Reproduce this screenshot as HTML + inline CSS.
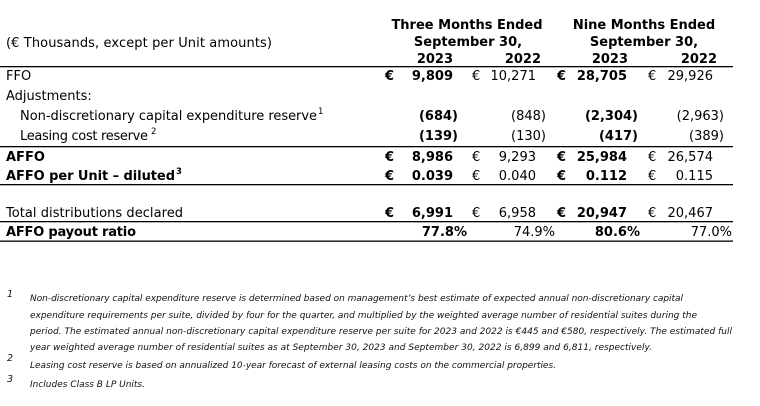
<!DOCTYPE html>
<html>
<head>
<meta charset="utf-8">
<style>
  html,body{margin:0;padding:0;background:#fff;}
  svg{display:block;}
  text{font-family:"DejaVu Sans","Liberation Sans",sans-serif;fill:#000;}
  .r{font-size:13px;}
  .b{font-size:13px;font-weight:bold;}
  .sup{font-size:8.5px;}
  .fn{font-size:9px;font-style:italic;fill:#111;}
  .fnn{font-size:9.5px;font-style:italic;fill:#111;}
</style>
</head>
<body>
<svg width="760" height="406" viewBox="0 0 760 406" xmlns="http://www.w3.org/2000/svg">
  <!-- Header -->
  <text class="b" x="467" y="29" text-anchor="middle">Three Months Ended</text>
  <text class="b" x="644" y="29" text-anchor="middle">Nine Months Ended</text>
  <text class="r" x="6" y="47" textLength="266" lengthAdjust="spacing">(€ Thousands, except per Unit amounts)</text>
  <text class="b" x="468" y="46" text-anchor="middle">September 30,</text>
  <text class="b" x="644" y="46" text-anchor="middle">September 30,</text>
  <text class="b" x="453" y="63" text-anchor="end">2023</text>
  <text class="b" x="541" y="63" text-anchor="end">2022</text>
  <text class="b" x="628" y="63" text-anchor="end">2023</text>
  <text class="b" x="717" y="63" text-anchor="end">2022</text>

  <!-- Lines -->
  <rect x="0" y="66" width="733" height="1.3" fill="#000"/>
  <rect x="0" y="146" width="733" height="1.3" fill="#000"/>
  <rect x="0" y="184" width="733" height="1.3" fill="#000"/>
  <rect x="0" y="221" width="733" height="1.3" fill="#000"/>
  <rect x="0" y="240.5" width="733" height="1.3" fill="#000"/>

  <!-- FFO -->
  <text class="r" x="6" y="80">FFO</text>
  <text class="b" x="385" y="80">€</text>
  <text class="b" x="453" y="80" text-anchor="end">9,809</text>
  <text class="r" x="472" y="80">€</text>
  <text class="r" x="536" y="80" text-anchor="end">10,271</text>
  <text class="b" x="557" y="80">€</text>
  <text class="b" x="627" y="80" text-anchor="end">28,705</text>
  <text class="r" x="648" y="80">€</text>
  <text class="r" x="713" y="80" text-anchor="end">29,926</text>

  <!-- Adjustments -->
  <text class="r" x="6" y="100">Adjustments:</text>

  <!-- Non-discretionary -->
  <text class="r" x="20" y="120" textLength="297" lengthAdjust="spacing">Non-discretionary capital expenditure reserve</text>
  <text class="sup" x="318" y="114">1</text>
  <text class="b" x="458" y="120" text-anchor="end">(684)</text>
  <text class="r" x="546" y="120" text-anchor="end">(848)</text>
  <text class="b" x="638" y="120" text-anchor="end">(2,304)</text>
  <text class="r" x="724" y="120" text-anchor="end">(2,963)</text>

  <!-- Leasing -->
  <text class="r" x="20" y="140" textLength="128" lengthAdjust="spacing">Leasing cost reserve</text>
  <text class="sup" x="151" y="134">2</text>
  <text class="b" x="458" y="140" text-anchor="end">(139)</text>
  <text class="r" x="546" y="140" text-anchor="end">(130)</text>
  <text class="b" x="638" y="140" text-anchor="end">(417)</text>
  <text class="r" x="724" y="140" text-anchor="end">(389)</text>

  <!-- AFFO -->
  <text class="b" x="6" y="161">AFFO</text>
  <text class="b" x="385" y="161">€</text>
  <text class="b" x="453" y="161" text-anchor="end">8,986</text>
  <text class="r" x="472" y="161">€</text>
  <text class="r" x="536" y="161" text-anchor="end">9,293</text>
  <text class="b" x="557" y="161">€</text>
  <text class="b" x="627" y="161" text-anchor="end">25,984</text>
  <text class="r" x="648" y="161">€</text>
  <text class="r" x="713" y="161" text-anchor="end">26,574</text>

  <!-- AFFO per Unit -->
  <text class="b" x="6" y="180" textLength="169" lengthAdjust="spacing">AFFO per Unit – diluted</text>
  <text class="sup" x="176" y="174" font-weight="bold">3</text>
  <text class="b" x="385" y="180">€</text>
  <text class="b" x="453" y="180" text-anchor="end">0.039</text>
  <text class="r" x="472" y="180">€</text>
  <text class="r" x="536" y="180" text-anchor="end">0.040</text>
  <text class="b" x="557" y="180">€</text>
  <text class="b" x="627" y="180" text-anchor="end">0.112</text>
  <text class="r" x="648" y="180">€</text>
  <text class="r" x="713" y="180" text-anchor="end">0.115</text>

  <!-- Total distributions -->
  <text class="r" x="6" y="217" textLength="177" lengthAdjust="spacing">Total distributions declared</text>
  <text class="b" x="385" y="217">€</text>
  <text class="b" x="453" y="217" text-anchor="end">6,991</text>
  <text class="r" x="472" y="217">€</text>
  <text class="r" x="536" y="217" text-anchor="end">6,958</text>
  <text class="b" x="557" y="217">€</text>
  <text class="b" x="627" y="217" text-anchor="end">20,947</text>
  <text class="r" x="648" y="217">€</text>
  <text class="r" x="713" y="217" text-anchor="end">20,467</text>

  <!-- AFFO payout ratio -->
  <text class="b" x="6" y="236" textLength="130" lengthAdjust="spacing">AFFO payout ratio</text>
  <text class="b" x="467" y="236" text-anchor="end">77.8%</text>
  <text class="r" x="555" y="236" text-anchor="end">74.9%</text>
  <text class="b" x="640" y="236" text-anchor="end">80.6%</text>
  <text class="r" x="732" y="236" text-anchor="end">77.0%</text>

  <!-- Footnotes -->
  <text class="fnn" x="7" y="297">1</text>
  <text class="fn" x="30" y="301" textLength="653" lengthAdjust="spacing">Non-discretionary capital expenditure reserve is determined based on management’s best estimate of expected annual non-discretionary capital</text>
  <text class="fn" x="30" y="318" textLength="667" lengthAdjust="spacing">expenditure requirements per suite, divided by four for the quarter, and multiplied by the weighted average number of residential suites during the</text>
  <text class="fn" x="30" y="334" textLength="702" lengthAdjust="spacing">period. The estimated annual non-discretionary capital expenditure reserve per suite for 2023 and 2022 is €445 and €580, respectively. The estimated full</text>
  <text class="fn" x="30" y="350" textLength="622" lengthAdjust="spacing">year weighted average number of residential suites as at September 30, 2023 and September 30, 2022 is 6,899 and 6,811, respectively.</text>
  <text class="fnn" x="7" y="361">2</text>
  <text class="fn" x="30" y="368" textLength="526" lengthAdjust="spacing">Leasing cost reserve is based on annualized 10-year forecast of external leasing costs on the commercial properties.</text>
  <text class="fnn" x="7" y="382">3</text>
  <text class="fn" x="30" y="387" textLength="115" lengthAdjust="spacing">Includes Class B LP Units.</text>
</svg>
</body>
</html>
